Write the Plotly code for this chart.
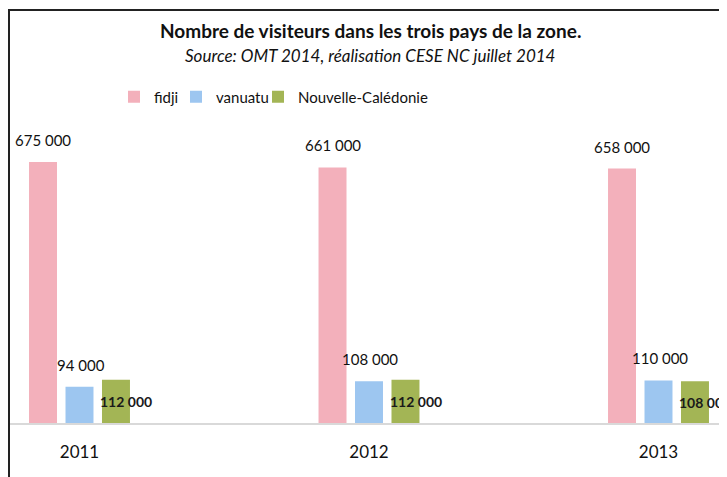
import plotly.graph_objects as go

years = ["2011", "2012", "2013"]
series_names = ["fidji", "vanuatu", "Nouvelle-Calédonie"]
fidji = [675000, 661000, 658000]
vanuatu = [94000, 108000, 110000]
nouvelle_caledonie = [112000, 112000, 108000]
colors = ["#F3B0BB", "#9DC6F0", "#A3B555"]

def fmt(v):
    return f"{v:,}".replace(",", " ")

FONT = "Lato"
W, H = 727, 477
OFF = 8  # page body margin; figure coordinates = page coordinates - OFF

legend_keys = ["legend", "legend2", "legend3"]
fig = go.Figure()
for name, vals, col, lk in zip(series_names, [fidji, vanuatu, nouvelle_caledonie], colors, legend_keys):
    fig.add_trace(go.Bar(x=years, y=vals, name=name, legend=lk,
                         marker=dict(color=col, line=dict(width=0))))

base_px, top_px = 423 - OFF, 100 - OFF
spacing = 289.5
c0 = 79.5 - OFF
xr = [-c0 / spacing, (W - c0) / spacing]
ymax = (base_px - top_px) * fidji[0] / 261.0

def px_x(p):
    return (p - OFF) / W

def px_y(p):
    return 1 - (p - OFF) / H

annotations = []
offsets = [-36.5, 0, 36.5]
for i, y in enumerate(years):
    annotations.append(dict(x=i, y=fidji[i], xref="x", yref="y", text=fmt(fidji[i]), showarrow=False,
                            xshift=offsets[0], yshift=22, xanchor="center", yanchor="middle",
                            font=dict(family=FONT, size=15, color="#111")))
    annotations.append(dict(x=i, y=vanuatu[i], xref="x", yref="y", text=fmt(vanuatu[i]), showarrow=False,
                            xshift=offsets[1] + 1, yshift=22, xanchor="center", yanchor="middle",
                            font=dict(family=FONT, size=15, color="#111")))
    annotations.append(dict(x=i, y=nouvelle_caledonie[i] / 2, xref="x", yref="y",
                            text="<b>" + fmt(nouvelle_caledonie[i]) + "</b>",
                            showarrow=False, xshift=offsets[2] + 10, xanchor="center", yanchor="middle",
                            font=dict(family=FONT, size=14, color="#1a1a1a")))
annotations.append(dict(x=px_x(370), y=px_y(30), xref="paper", yref="paper", showarrow=False,
                        xanchor="center", yanchor="middle",
                        text="<b>Nombre de visiteurs dans les trois pays de la zone.</b>",
                        font=dict(family=FONT, size=19, color="#111")))
annotations.append(dict(x=px_x(370), y=px_y(56), xref="paper", yref="paper", showarrow=False,
                        xanchor="center", yanchor="middle",
                        text="<i>Source: OMT 2014, réalisation CESE NC juillet 2014</i>",
                        font=dict(family=FONT, size=17, color="#111")))

shapes = [
    dict(type="line", xref="paper", yref="paper", x0=0, x1=1, y0=px_y(10), y1=px_y(10),
         line=dict(color="#222", width=2)),
    dict(type="line", xref="paper", yref="paper", x0=px_x(9), x1=px_x(9), y0=0, y1=px_y(10),
         line=dict(color="#222", width=2)),
]

legend_x = [114, 176, 258]
legend_cfg = {}
for lk, lx in zip(legend_keys, legend_x):
    legend_cfg[lk] = dict(orientation="h", x=px_x(lx), xanchor="left", y=px_y(97), yanchor="middle",
                          font=dict(family=FONT, size=15, color="#111"), itemwidth=30,
                          bgcolor="rgba(0,0,0,0)")

fig.update_layout(
    template="none",
    width=W, height=H,
    margin=dict(l=0, r=0, t=0, b=0),
    paper_bgcolor="white", plot_bgcolor="white",
    barmode="group", bargap=0.622, bargroupgap=0.233,
    showlegend=True,
    xaxis=dict(type="category", range=xr, showgrid=False, zeroline=False, showline=True,
               linecolor="#d9d9d9", linewidth=2,
               ticks="", ticklabelstandoff=13, tickfont=dict(family=FONT, size=17, color="#111"),
               automargin=False, fixedrange=True),
    yaxis=dict(range=[0, ymax], domain=[(H - base_px) / H, (H - top_px) / H], showgrid=False,
               zeroline=False, showticklabels=False, showline=False, ticks="", automargin=False),
    annotations=annotations,
    shapes=shapes,
    font=dict(family=FONT),
    **legend_cfg,
)

fig.write_html("out.html")
